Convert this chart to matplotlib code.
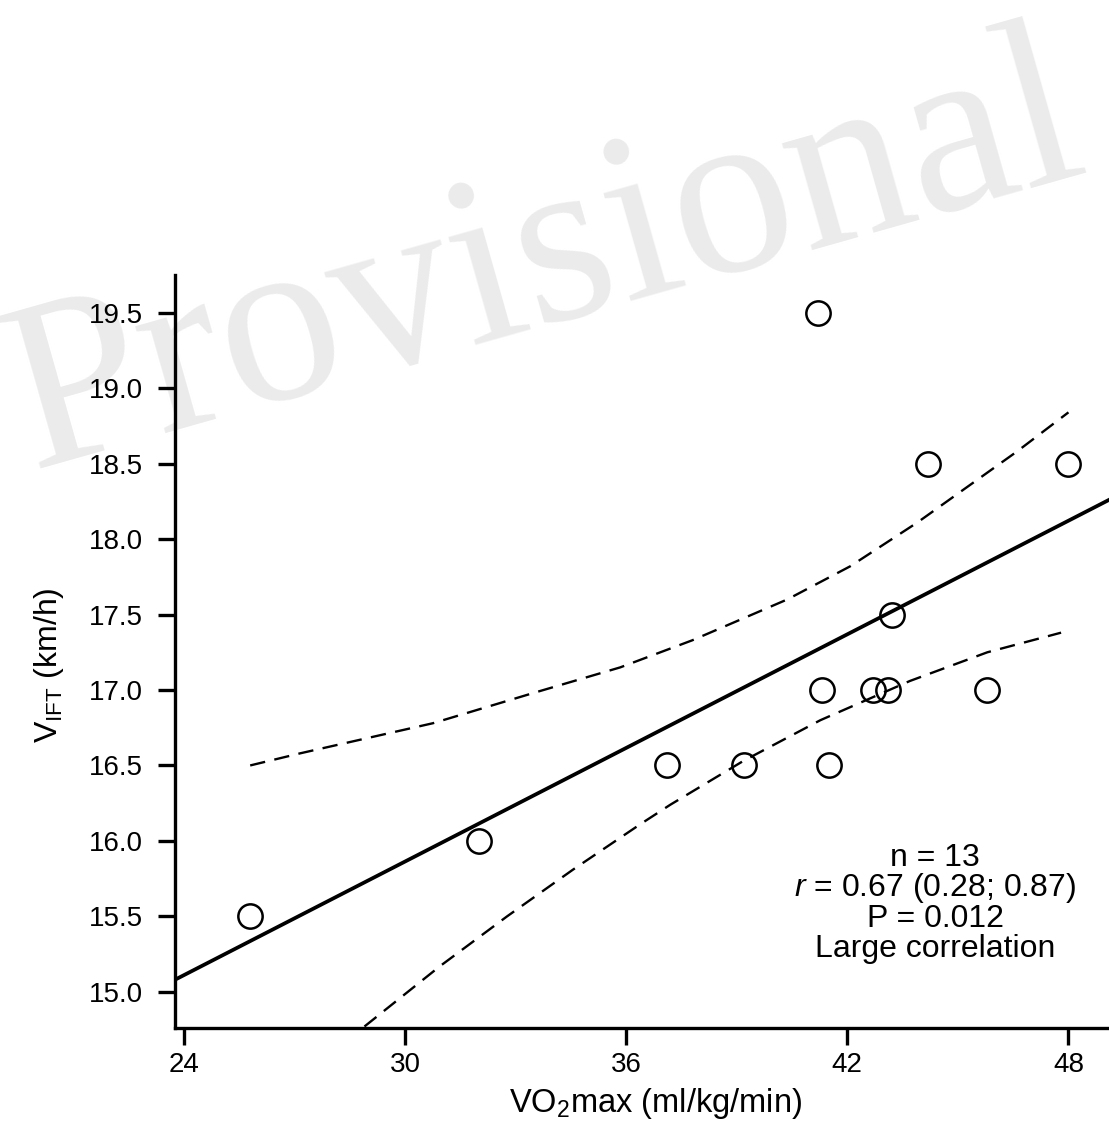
import matplotlib
matplotlib.use('Agg')
import matplotlib.pyplot as plt

# font setup (Arial-like sans, custom mathtext so sub/italic match)
plt.rcParams['font.family'] = 'Liberation Sans'
plt.rcParams['mathtext.fontset'] = 'custom'
plt.rcParams['mathtext.rm'] = 'Liberation Sans'
plt.rcParams['mathtext.it'] = 'Liberation Sans:italic'

# data
vo2max = [25.8, 32.0, 37.1, 39.2, 41.2, 41.3, 41.5, 42.7, 43.1, 43.2, 44.2, 45.8, 48.0]
vift = [15.5, 16.0, 16.5, 16.5, 19.5, 17.0, 16.5, 17.0, 17.0, 17.5, 18.5, 17.0, 18.5]

# regression line
fit_x = [23.76, 49.1]
fit_y = [15.08, 18.26]

# 95% confidence bands
upper_x = [25.8, 27.15, 30.76, 33.48, 35.84, 37.8, 40.37, 42.08, 43.9, 46.6, 48.0]
upper_y = [16.50, 16.58, 16.78, 16.98, 17.15, 17.33, 17.60, 17.82, 18.11, 18.58, 18.84]
lower_x = [28.9, 30.95, 32.77, 34.56, 36.38, 37.2, 39.18, 41.27, 43.7, 45.8, 47.8]
lower_y = [14.77, 15.17, 15.50, 15.81, 16.11, 16.24, 16.53, 16.80, 17.06, 17.25, 17.38]

xticks = [24, 30, 36, 42, 48]
yticks = [15.0, 15.5, 16.0, 16.5, 17.0, 17.5, 18.0, 18.5, 19.0, 19.5]

stats_lines = ['n = 13', r'$\it{r}$ = 0.67 (0.28; 0.87)', 'P = 0.012', 'Large correlation']

fig = plt.figure(figsize=(11.09, 11.24), dpi=100)
ax = fig.add_axes([0.1578, 0.0854, 0.8422, 0.6699])

# watermark behind everything
fig.text(0.028, 0.583, 'Provisional', fontsize=174, family='Liberation Serif',
         color='#ebebeb', rotation=15.8, rotation_mode='anchor',
         ha='left', va='baseline', zorder=-10)
ax.patch.set_alpha(0)

ax.plot(fit_x, fit_y, color='black', linewidth=2.7, zorder=3)
ax.plot(upper_x, upper_y, color='black', linewidth=1.7, dashes=(6.5, 4), zorder=2)
ax.plot(lower_x, lower_y, color='black', linewidth=1.7, dashes=(6.5, 4), zorder=2)
ax.plot(vo2max, vift, linestyle='none', marker='o', markersize=17.5,
        markerfacecolor='none', markeredgecolor='black', markeredgewidth=1.8, zorder=4)

ax.set_xlim(23.76, 49.1)
ax.set_ylim(14.76, 19.75)
ax.set_xticks(xticks)
ax.set_yticks(yticks)
ax.set_yticklabels(['%.1f' % v for v in yticks])

ax.spines['top'].set_visible(False)
ax.spines['right'].set_visible(False)
ax.spines['left'].set_linewidth(2.4)
ax.spines['bottom'].set_linewidth(2.4)
ax.tick_params(axis='both', length=12, width=2.4, labelsize=20, colors='black')
ax.tick_params(axis='y', pad=11)
ax.tick_params(axis='x', pad=5)

ax.set_xlabel(r'VO$_2$max (ml/kg/min)', fontsize=23.5, labelpad=5)
ax.xaxis.set_label_coords(0.514, -0.077)
ax.set_ylabel(r'V$_{\mathrm{IFT}}$ (km/h)', fontsize=23)
ax.yaxis.set_label_coords(-0.117, 0.482)

# stats text block
for i, line in enumerate(stats_lines):
    ax.text(0.814, 0.226 - i * 0.0405, line, transform=ax.transAxes,
            fontsize=23, ha='center', va='center')

fig.savefig('out.png', dpi=100)
